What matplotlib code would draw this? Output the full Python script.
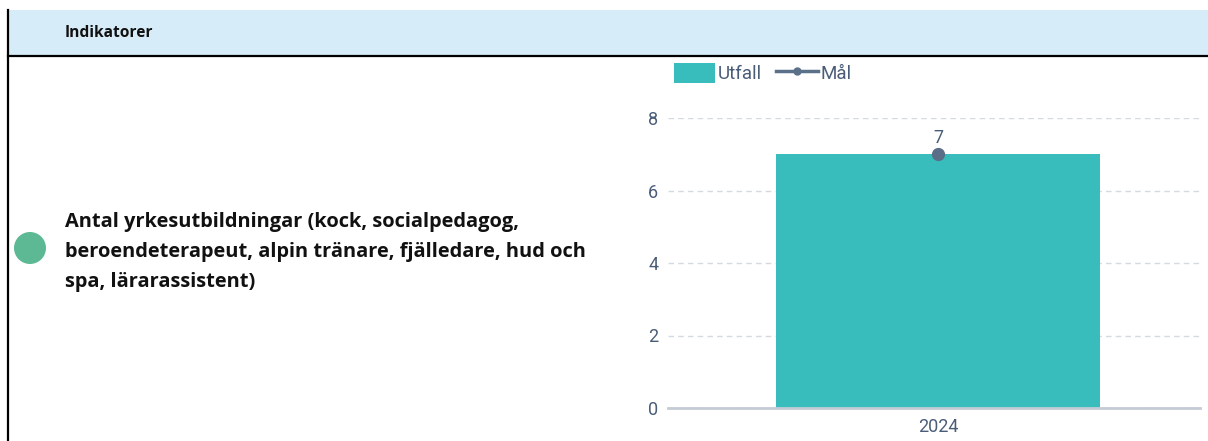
import matplotlib.pyplot as plt
from matplotlib.patches import Rectangle, Ellipse

# data
years = ["2024"]
utfall = [7]
mal = [7]
yticks = [0, 2, 4, 6, 8]
header = "Indikatorer"
indikator = "Antal yrkesutbildningar (kock, socialpedagog,\nberoendeterapeut, alpin tränare, fjälledare, hud och\nspa, lärarassistent)"

W, H = 1208, 441
fig = plt.figure(figsize=(W / 100, H / 100), dpi=100)

# pixel -> figurfraktion
def fx(px):
    return px / W

def fy(py):
    return 1 - py / H

# tabellhuvud
fig.patches.append(Rectangle((fx(8), fy(56)), fx(W - 8), fy(10) - fy(56),
                             transform=fig.transFigure, facecolor="#d6ecf8",
                             edgecolor="none", zorder=0))
fig.add_artist(plt.Line2D([fx(8), fx(8)], [fy(10), fy(441)], color="black", lw=1.6))
fig.add_artist(plt.Line2D([fx(8), 1], [fy(56), fy(56)], color="black", lw=1.6))
fig.text(fx(65), fy(33), header, fontsize=11.2, fontweight="bold",
         family="Open Sans", va="center", ha="left", color="#111111")

# grön indikatorcirkel
fig.patches.append(Ellipse((fx(30), fy(248)), 32 / W, 32 / H, transform=fig.transFigure,
                           facecolor="#5cb994", edgecolor="none"))
fig.text(fx(65), fy(252), indikator, fontsize=14.4, fontweight="bold",
         family="Open Sans", va="center", ha="left", color="#111111", linespacing=1.66)

# diagram
ax = fig.add_axes([fx(668), fy(408), fx(1200) - fx(668), fy(118) - fy(408)])
x = list(range(len(years)))
bars = ax.bar(x, utfall, width=0.61, color="#38bcbc", label="Utfall", zorder=2)
line, = ax.plot(x, mal, color="#5b6e87", marker="o", markersize=8.5, lw=3,
                label="Mål", zorder=3)
for xi, v in zip(x, mal):
    ax.annotate(str(v), (xi, v), xytext=(0, 5), textcoords="offset points",
                ha="center", va="bottom", fontsize=13, color="#4a5d78", family="Roboto")

ax.set_xlim(-0.5075, 0.4925)
ax.set_ylim(0, 8)
ax.set_yticks(yticks)
ax.set_xticks(x)
ax.set_xticklabels(years)
ax.grid(axis="y", color="#d5dae0", linestyle=(0, (4, 3)), lw=1, zorder=0)
for s in ["top", "right", "left"]:
    ax.spines[s].set_visible(False)
ax.spines["bottom"].set_color("#c3cbd6")
ax.spines["bottom"].set_linewidth(2)
ax.tick_params(length=0, labelsize=13, labelcolor="#4a5d78", pad=7)
for lab in ax.get_xticklabels() + ax.get_yticklabels():
    lab.set_family("Roboto")

leg_line = plt.Line2D([], [], color="#5b7089", marker="o", markersize=5, lw=2.5)
leg = ax.legend([bars, leg_line], ["Utfall", "Mål"], loc="center left",
                bbox_to_anchor=(fx(674), fy(73)), bbox_transform=fig.transFigure,
                ncol=2, frameon=False, handlelength=2.2, handleheight=1.25,
                handletextpad=0.15, columnspacing=0.75, borderaxespad=0, borderpad=0,
                prop={"family": "Roboto", "size": 13.5})
for t in leg.get_texts():
    t.set_color("#4a5d78")

fig.savefig("out.png", dpi=100)
